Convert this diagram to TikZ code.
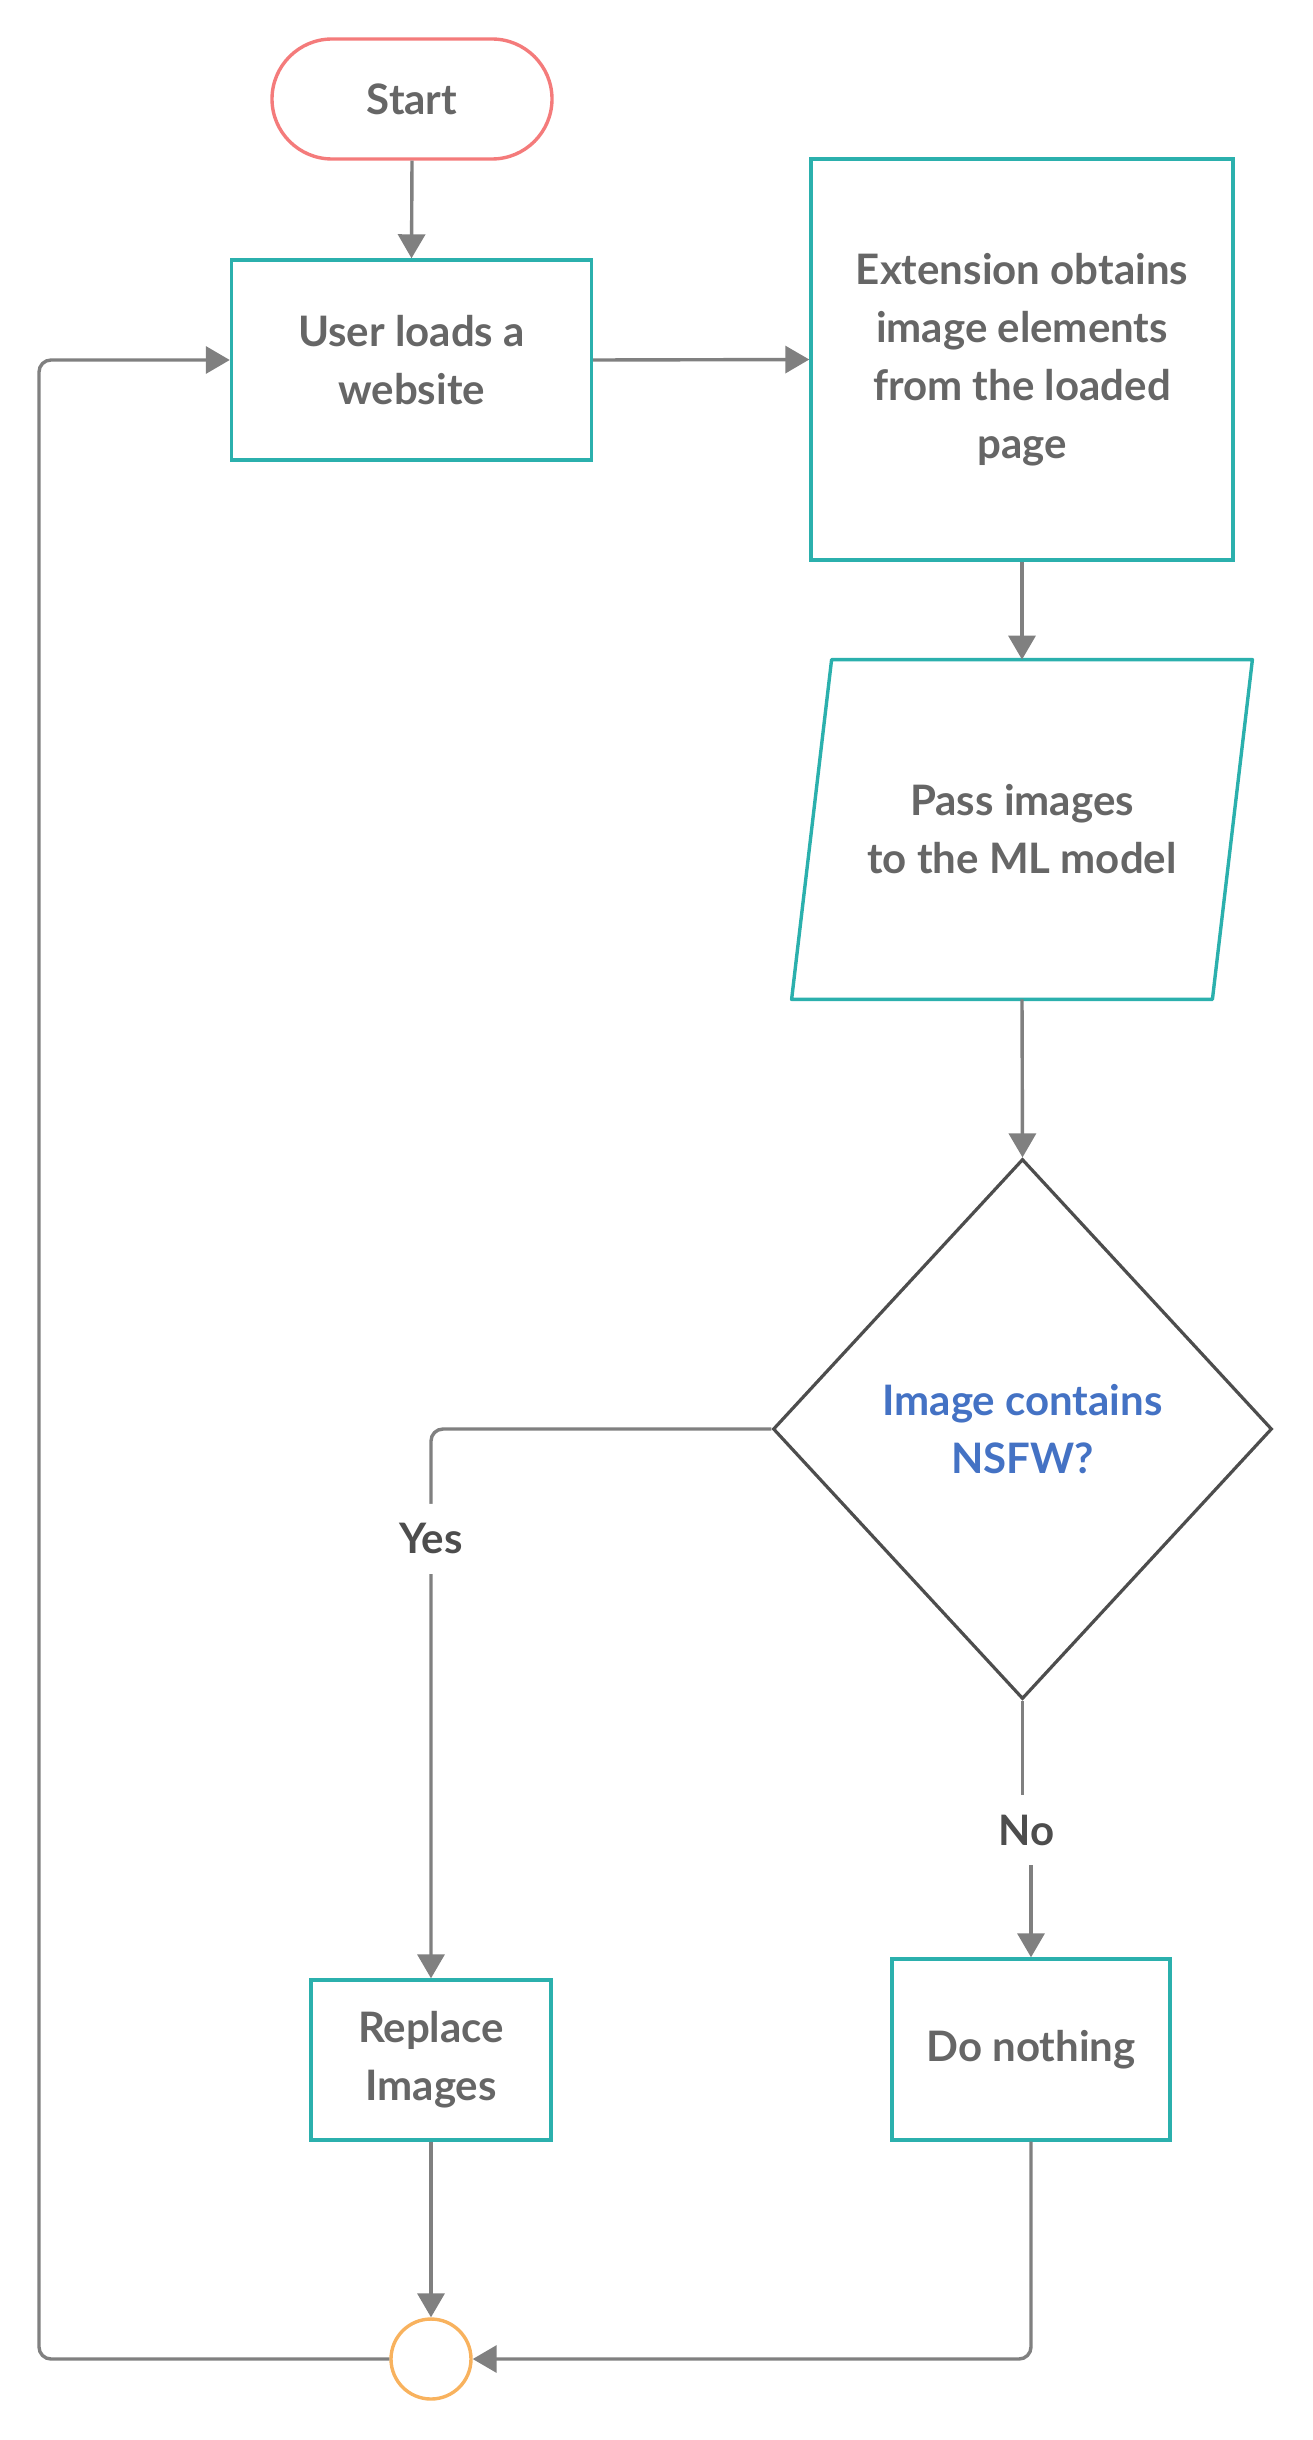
\documentclass[tikz,border=0pt]{standalone}
\usepackage{fontspec}
\setmainfont{Lato}
\usetikzlibrary{shapes.geometric,arrows.meta}
\definecolor{boxteal}{HTML}{2BB0AD}
\definecolor{startred}{HTML}{F47B7B}
\definecolor{joinorange}{HTML}{F8B25E}
\definecolor{linegray}{HTML}{808080}
\definecolor{textgray}{HTML}{666666}
\definecolor{labelgray}{HTML}{4D4D4D}
\definecolor{askblue}{HTML}{4472C4}
\begin{document}
\begin{tikzpicture}[x=0.5pt, y=-0.5pt,
	every node/.style={font=\fontsize{21}{29}\selectfont\bfseries, text=textgray, align=center},
	box/.style={rectangle, draw=boxteal, line width=1.7pt, inner sep=0pt},
	arrow/.style={draw=linegray, line width=1.7pt, rounded corners=6pt, -{Triangle[length=12pt,width=13.5pt]}},
	answer/.style={fill=white, text=labelgray, minimum height=35pt, inner sep=2pt}]
	\useasboundingbox (0,0) rectangle (1312,2440);
	% Place nodes
	\node [rectangle,draw=startred,line width=1.7pt,rounded corners=30pt,minimum width=140pt,minimum height=60pt] (start) at (412,99) {Start};
	\node [box,minimum width=180pt,minimum height=100pt] (user) at (411.5,360) {User loads a\\website};
	\node [box,minimum width=211pt,minimum height=200.5pt] (ext) at (1022,359.5) {Extension obtains\\image elements\\from the loaded\\page};
	\node [rectangle,minimum width=210pt,minimum height=169.5pt,inner sep=0pt] (pass) at (1022,829.5) {Pass images\\to the ML model};
	\draw [boxteal,line width=1.7pt,line join=round] ([xshift=-10pt]pass.south west) -- ([xshift=10pt]pass.north west) -- ([xshift=10pt]pass.north east) -- ([xshift=-10pt]pass.south east) -- cycle;
	\node [diamond,draw=labelgray,line width=1.6pt,minimum width=249.5pt,minimum height=270pt,inner sep=0pt,text=askblue] (dec) at (1022.5,1429) {Image contains\\NSFW?};
	\node [box,minimum width=120pt,minimum height=80pt] (rep) at (431,2060) {Replace\\Images};
	\node [box,minimum width=139pt,minimum height=90.5pt] (dn) at (1031,2049.5) {Do nothing};
	\node [circle,draw=joinorange,line width=1.7pt,minimum size=40pt,inner sep=0pt] (join) at (431,2359) {};
	\coordinate (back) at (39,360);
	\coordinate (nopt) at (1026.5,1830);

	% Connectors
	\draw [arrow] (start.south) -- (user.north);
	\draw [arrow] (user.east) -- (ext.west);
	\draw [arrow] (ext.south) -- (pass.north);
	\draw [arrow] (pass.south) -- (dec.north);
	\draw [arrow] (dec.west) -| node[answer,pos=0.6] {Yes} (rep.north);
	\draw [arrow,rounded corners=0pt] (dec.south) -- (dec.south |- nopt) -- node[answer] {No} (nopt -| dn.north) -- (dn.north);
	\draw [arrow] (rep.south) -- (join.north);
	\draw [arrow] (dn.south) |- (join.east);
	\draw [arrow] (join.west) -| (back) -- (user.west);
\end{tikzpicture}
\end{document}
